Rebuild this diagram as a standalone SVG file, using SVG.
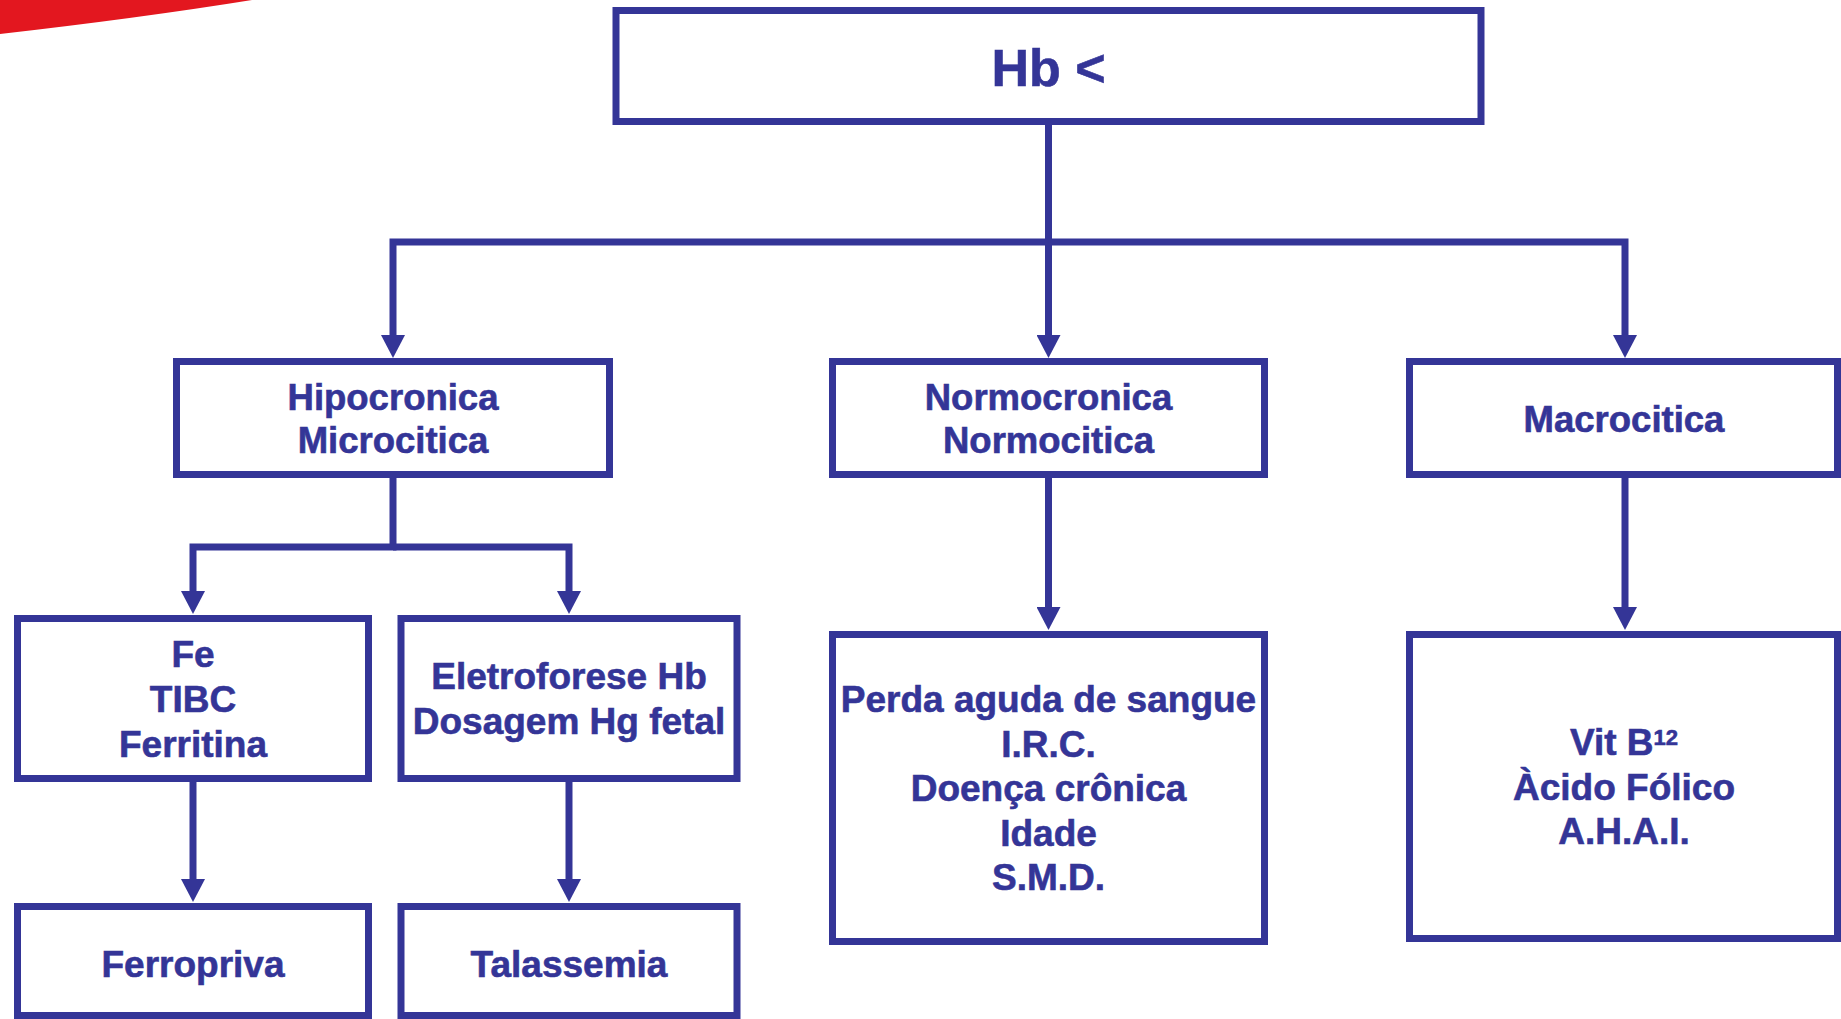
<svg xmlns="http://www.w3.org/2000/svg" width="1841" height="1019" viewBox="0 0 1841 1019">
<style>
.box{fill:#ffffff;stroke:#343597;stroke-width:7}
.ln{fill:none;stroke:#343597;stroke-width:7;stroke-linejoin:miter}
.t{font-family:"Liberation Sans",Arial,sans-serif;font-weight:bold;font-size:37px;fill:#343597;stroke:#343597;stroke-width:0.6;text-anchor:middle}
</style>
<defs>
<marker id="ah" markerUnits="userSpaceOnUse" viewBox="0 0 23 24" refX="0" refY="12" markerWidth="23" markerHeight="24" orient="auto">
<path d="M0,0 L23,12 L0,24 z" fill="#343597"/>
</marker>
</defs>
<rect width="1841" height="1019" fill="#ffffff"/>
<path d="M0,0 L252,0 Q140,18 0,34 Z" fill="#e3171f"/>
<g id="connectors">
<path class="ln" d="M1048.5,125 V335" marker-end="url(#ah)"/>
<path class="ln" d="M1048.5,242 H393 V335" marker-end="url(#ah)"/>
<path class="ln" d="M1048.5,242 H1625 V335" marker-end="url(#ah)"/>
<path class="ln" d="M393,478 V547 H193 V591" marker-end="url(#ah)"/>
<path class="ln" d="M393,547 H569 V591" marker-end="url(#ah)"/>
<path class="ln" d="M193,782 V879" marker-end="url(#ah)"/>
<path class="ln" d="M569,782 V879" marker-end="url(#ah)"/>
<path class="ln" d="M1048.5,478 V607" marker-end="url(#ah)"/>
<path class="ln" d="M1625,478 V607" marker-end="url(#ah)"/>
</g>
<g id="hb">
<rect class="box" x="616" y="10.5" width="865" height="111"/>
<text class="t" x="1048.5" y="86" style="font-size:52px">Hb &lt;</text>
</g>
<g id="hipocronica">
<rect class="box" x="176.5" y="361.5" width="433" height="113"/>
<text class="t" x="393" y="410" style="font-size:36.5px">Hipocronica</text>
<text class="t" x="393" y="453" style="font-size:36.5px">Microcitica</text>
</g>
<g id="normocronica">
<rect class="box" x="832.5" y="361.5" width="432" height="113"/>
<text class="t" x="1048.5" y="410" style="font-size:36.5px">Normocronica</text>
<text class="t" x="1048.5" y="453" style="font-size:36.5px">Normocitica</text>
</g>
<g id="macrocitica">
<rect class="box" x="1409.5" y="361.5" width="428" height="113"/>
<text class="t" x="1624" y="432" style="font-size:36.5px">Macrocitica</text>
</g>
<g id="fe">
<rect class="box" x="17.5" y="618.5" width="351" height="160"/>
<text class="t" x="193" y="667">Fe</text>
<text class="t" x="193" y="712">TIBC</text>
<text class="t" x="193" y="757">Ferritina</text>
</g>
<g id="eletroforese">
<rect class="box" x="401" y="618.5" width="336" height="160"/>
<text class="t" x="569" y="689">Eletroforese Hb</text>
<text class="t" x="569" y="734">Dosagem Hg fetal</text>
</g>
<g id="perda">
<rect class="box" x="832.5" y="634.5" width="432" height="307"/>
<text class="t" x="1048.5" y="712">Perda aguda de sangue</text>
<text class="t" x="1048.5" y="757">I.R.C.</text>
<text class="t" x="1048.5" y="801">Doença crônica</text>
<text class="t" x="1048.5" y="846">Idade</text>
<text class="t" x="1048.5" y="890">S.M.D.</text>
</g>
<g id="vitb12">
<rect class="box" x="1409.5" y="634.5" width="428" height="304"/>
<text class="t" x="1624" y="755">Vit B<tspan dy="-10" style="font-size:22px">12</tspan></text>
<text class="t" x="1624" y="800">Àcido Fólico</text>
<text class="t" x="1624" y="844">A.H.A.I.</text>
</g>
<g id="ferropriva">
<rect class="box" x="17.5" y="906.5" width="351" height="109"/>
<text class="t" x="193" y="977">Ferropriva</text>
</g>
<g id="talassemia">
<rect class="box" x="401" y="906.5" width="336" height="109"/>
<text class="t" x="569" y="977">Talassemia</text>
</g>
</svg>
